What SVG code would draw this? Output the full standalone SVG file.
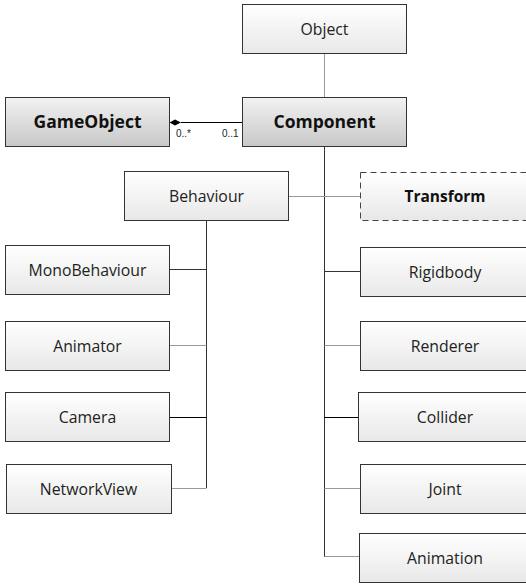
<svg xmlns="http://www.w3.org/2000/svg" width="526" height="584" viewBox="0 0 526 584">
<defs>
<linearGradient id="gl" x1="0" y1="0" x2="0" y2="1"><stop offset="0" stop-color="#ffffff"/><stop offset="1" stop-color="#e8e8e8"/></linearGradient>
<linearGradient id="gd" x1="0" y1="0" x2="0" y2="1"><stop offset="0" stop-color="#f2f2f2"/><stop offset="1" stop-color="#c8c8c8"/></linearGradient>
</defs>
<style>
.b{fill:url(#gl);stroke:#333;stroke-width:1}
.bd{fill:url(#gd);stroke:#333;stroke-width:1}
.dash{fill:url(#gl);stroke:#444;stroke-width:1;stroke-dasharray:6,4}
.t{font-family:"Open Sans","Noto Sans",sans-serif;font-size:15.8px;fill:#222;text-anchor:middle}
.tb{font-family:"Open Sans","Noto Sans",sans-serif;font-size:17.5px;font-weight:bold;fill:#111;text-anchor:middle}
.tb2{font-family:"Open Sans","Noto Sans",sans-serif;font-size:15.5px;font-weight:bold;fill:#111;text-anchor:middle}
.m{font-family:"Liberation Sans",sans-serif;font-size:10px;fill:#222}
.k{stroke:#333;stroke-width:1;fill:none}
.g{stroke:#999;stroke-width:1;fill:none}
</style>
<g id="connectors">
<line class="g" x1="324.5" y1="53" x2="324.5" y2="97"/>
<line class="k" x1="324.5" y1="146" x2="324.5" y2="557"/>
<line class="g" x1="288" y1="196.5" x2="360" y2="196.5"/>
<line class="k" x1="206.5" y1="221" x2="206.5" y2="488"/>
<line class="k" x1="169" y1="269.5" x2="206.5" y2="269.5"/>
<line class="g" x1="169" y1="345.5" x2="206.5" y2="345.5"/>
<line stroke="#000" x1="169" y1="417.5" x2="206.5" y2="417.5"/>
<line class="g" x1="171" y1="488.5" x2="206.5" y2="488.5"/>
<line class="k" x1="324.5" y1="271.5" x2="360" y2="271.5"/>
<line class="g" x1="324.5" y1="345.5" x2="360" y2="345.5"/>
<line stroke="#000" x1="324.5" y1="417.5" x2="358" y2="417.5"/>
<line class="g" x1="324.5" y1="488.5" x2="360" y2="488.5"/>
<line class="g" x1="324.5" y1="556.5" x2="359" y2="556.5"/>
<line stroke="#000" x1="181" y1="122.5" x2="242" y2="122.5"/>
<polygon points="169.5,122.5 175,119.5 181,122.5 175,125.5" fill="#000"/>
<text class="m" x="176" y="137">0..*</text>
<text class="m" x="222" y="137">0..1</text>
</g>
<g id="Object"><rect class="b" x="242.5" y="4.5" width="164" height="49"/><text class="t" x="324.5" y="35">Object</text></g>
<g id="GameObject"><rect class="bd" x="5.5" y="97.5" width="164" height="49"/><text class="tb" x="87.5" y="128">GameObject</text></g>
<g id="Component"><rect class="bd" x="242.5" y="97.5" width="164" height="49"/><text class="tb" x="324.5" y="128">Component</text></g>
<g id="Behaviour"><rect class="b" x="124.5" y="171.5" width="164" height="49"/><text class="t" x="206.5" y="202">Behaviour</text></g>
<g id="Transform"><rect class="dash" x="360.5" y="172.5" width="170" height="48"/><text class="tb2" x="445" y="202">Transform</text></g>
<g id="MonoBehaviour"><rect class="b" x="5.5" y="245.5" width="164" height="49"/><text class="t" x="87.5" y="276">MonoBehaviour</text></g>
<g id="Animator"><rect class="b" x="5.5" y="321.5" width="164" height="49"/><text class="t" x="87.5" y="352">Animator</text></g>
<g id="Camera"><rect class="b" x="5.5" y="392.5" width="164" height="49"/><text class="t" x="87.5" y="423">Camera</text></g>
<g id="NetworkView"><rect class="b" x="6.5" y="464.5" width="165" height="49"/><text class="t" x="88.5" y="495">NetworkView</text></g>
<g id="Rigidbody"><rect class="b" x="360.5" y="247.5" width="170" height="49"/><text class="t" x="445" y="278">Rigidbody</text></g>
<g id="Renderer"><rect class="b" x="360.5" y="321.5" width="170" height="49"/><text class="t" x="445" y="352">Renderer</text></g>
<g id="Collider"><rect class="b" x="358.5" y="392.5" width="172" height="49"/><text class="t" x="445" y="423">Collider</text></g>
<g id="Joint"><rect class="b" x="360.5" y="464.5" width="170" height="49"/><text class="t" x="445" y="495">Joint</text></g>
<g id="Animation"><rect class="b" x="359.5" y="533.5" width="171" height="49"/><text class="t" x="445" y="564">Animation</text></g>
</svg>
